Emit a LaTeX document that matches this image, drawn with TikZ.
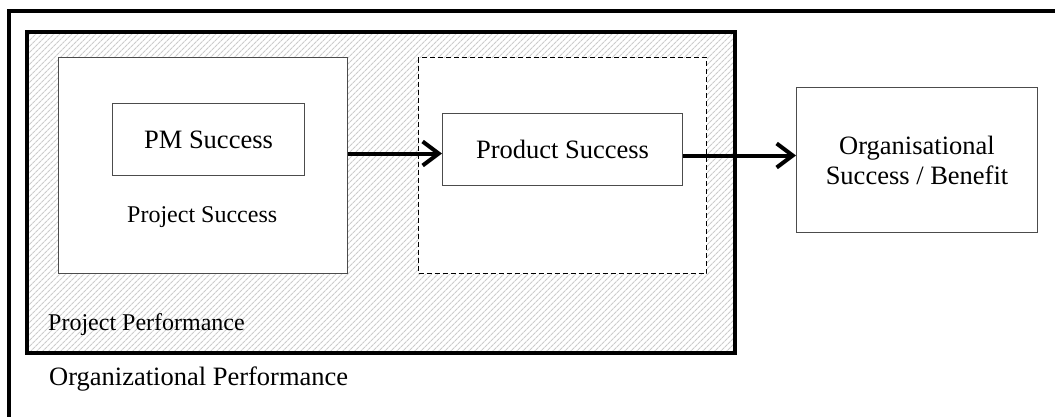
\documentclass[tikz,border=0pt]{standalone}
\usepackage{fontspec}
\setmainfont{Liberation Serif}
\usetikzlibrary{arrows.meta,patterns.meta}

\tikzset{
  big/.style={font=\fontsize{26.5}{30}\selectfont},
  small/.style={font=\fontsize{24}{28}\selectfont},
  thinbox/.style={draw=black!70, line width=1pt, fill=white},
  dashbox/.style={draw=black, line width=1pt, fill=white, dash pattern=on 5pt off 3pt},
  flow/.style={line width=4pt, -{Straight Barb[length=16pt,width=24pt,line width=4pt]}},
  label/.style={anchor=base west, inner sep=0pt}
}

\begin{document}
\begin{tikzpicture}[x=1pt,y=-1pt]
  \useasboundingbox (0,0) rectangle (1055,416);
  \clip (0,0) rectangle (1055,416);

  % organizational frame (open to the right and bottom)
  \draw[line width=3.5pt] (9,430) -- (9,11) -- (1070,11);

  % project performance area, hatched
  \fill[white] (27,32) rectangle (735,353);
  \fill[pattern={Lines[angle=45,distance=4pt,line width=1.2pt]}, pattern color=black!20]
    (27,32) rectangle (735,353);
  \draw[line width=4.5pt] (27,32) rectangle (735,353);

  % project success box and product region
  \node[thinbox, minimum width=289pt, minimum height=216pt, anchor=north west] (ps) at (58,57) {};
  \node[dashbox, minimum width=288pt, minimum height=216pt, anchor=north west] (pr) at (418,57) {};

  % inner boxes
  \node[thinbox, big, minimum width=192pt, minimum height=72pt, anchor=north west] (pm) at (112,103) {PM Success};
  \node[thinbox, big, minimum width=240pt, minimum height=72pt, anchor=north west] (prod) at (442,113) {Product Success};
  \node[thinbox, big, align=center, minimum width=241pt, minimum height=145pt, anchor=north west] (org) at (796,87) {Organisational\\Success / Benefit};

  % labels
  \node[label, small] (pslab) at (127,222) {Project Success};
  \node[label, small] (pplab) at (48,330) {Project Performance};
  \node[label, big] (oplab) at (49,385) {Organizational Performance};

  % flows
  \coordinate (inA) at ([yshift=-4pt]prod.west);
  \coordinate (outB) at ([yshift=-6pt]prod.east);
  \draw[flow] (ps.east |- inA) -- (inA);
  \draw[flow] (outB) -- (org.west |- outB);
\end{tikzpicture}
\end{document}
